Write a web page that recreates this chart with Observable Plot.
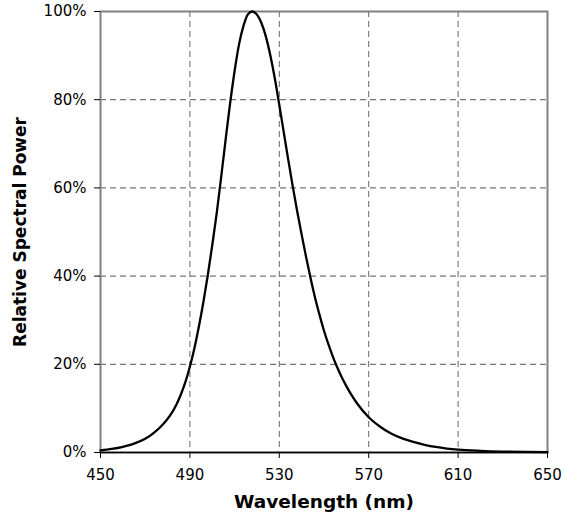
<!DOCTYPE html>
<html>
<head>
<meta charset="utf-8">
<script src="https://cdn.jsdelivr.net/npm/d3@7"></script>
<script src="https://cdn.jsdelivr.net/npm/@observablehq/plot@0.6"></script>
<style>
  html, body { margin: 0; padding: 0; background: #fff; }
  #chart svg { font-family: "DejaVu Sans", sans-serif; }
</style>
</head>
<body>
<div id="chart"></div>
<script>
// Wavelength (nm)
const wavelength = [450,455,460,465,470,474,478,481,484,486,488,490,492,494,496,498,500,502,504,506,508,510,512,514,516,518,520,522,524,526,528,530,532,534,536,538,540,542,544,546,548,550,552,554,556,558,560,562,565,570,575,580,585,590,595,600,605,610,620,630,640,650];
// Relative spectral power (%)
const power = [0.45,0.8,1.3,2.0,3.1,4.5,6.4,8.3,10.9,13.2,16.0,19.5,23.6,28.5,34,40.2,47,54.3,62.5,71,79.2,86.5,92.6,96.8,99.4,100,99.3,97.4,94.3,90,84.8,78.8,72.6,66.4,60.4,54.7,49.4,44.3,39.5,35.1,31.2,27.6,24.5,21.7,19.2,17.0,15.05,13.3,11.0,8.0,5.9,4.3,3.2,2.4,1.75,1.25,0.9,0.65,0.38,0.22,0.14,0.1];

const xTicks = [450, 490, 530, 570, 610, 650];
const yTicks = [0, 20, 40, 60, 80, 100];
const xGrid = [490, 530, 570, 610];
const yGrid = [20, 40, 60, 80];

const data = wavelength.map((w, i) => ({w, p: power[i]}));

const chart = Plot.plot({
  width: 565,
  height: 523,
  marginLeft: 100,
  marginRight: 18,
  marginTop: 11,
  marginBottom: 71,
  style: {fontFamily: "DejaVu Sans, sans-serif", background: "#fff", color: "#000"},
  x: {domain: [450, 650]},
  y: {domain: [0, 100]},
  marks: [
    Plot.ruleX(xGrid, {stroke: "#666", strokeWidth: 1, strokeDasharray: "6,4"}),
    Plot.ruleY(yGrid, {stroke: "#555", strokeWidth: 1, strokeDasharray: "6,4"}),
    Plot.frame({stroke: "#808080", strokeWidth: 2}),
    Plot.axisX({ticks: xTicks, tickSize: 6, tickPadding: 11, fontSize: 15, label: null, stroke: "#000"}),
    Plot.axisY({ticks: yTicks, tickSize: 6, tickPadding: 8, fontSize: 15, label: null, tickFormat: d => d + "%", stroke: "#000"}),
    Plot.ruleY([0], {stroke: "#000", strokeWidth: 1.5}),
    Plot.line(data, {x: "w", y: "p", stroke: "#000", strokeWidth: 2.3, curve: "monotone-x"}),
    Plot.text(["Wavelength (nm)"], {frameAnchor: "bottom", dy: 55, fontSize: 18.5, fontWeight: "bold", fill: "#000"}),
    Plot.text(["Relative Spectral Power"], {frameAnchor: "left", dx: -80, rotate: -90, textAnchor: "middle", fontSize: 17, fontWeight: "bold", fill: "#000"})
  ]
});
document.getElementById("chart").append(chart);
</script>
</body>
</html>
